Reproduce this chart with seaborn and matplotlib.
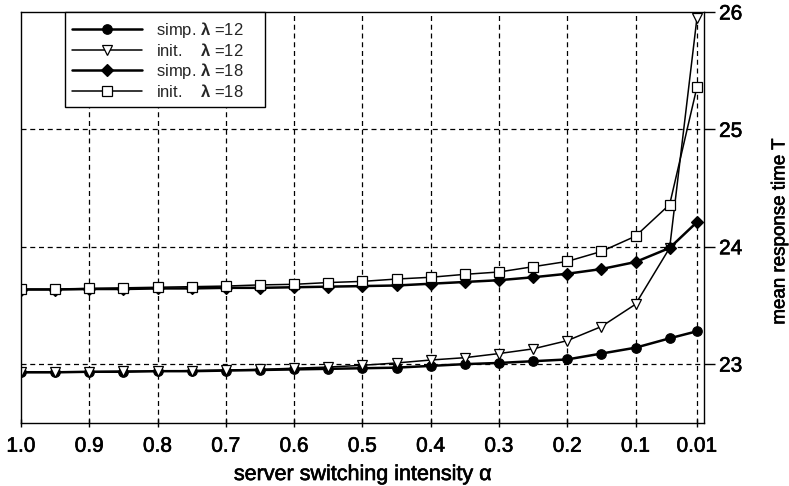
import matplotlib
matplotlib.use("Agg")
import matplotlib.pyplot as plt
import matplotlib.patheffects as pe
import seaborn as sns
import pandas as pd

# switching intensity values (x) and mean response times for each scheme
alpha = [1.0, 0.95, 0.9, 0.85, 0.8, 0.75, 0.7, 0.65, 0.6, 0.55, 0.5,
         0.45, 0.4, 0.35, 0.3, 0.25, 0.2, 0.15, 0.1, 0.05, 0.01]
simp12 = [22.93, 22.93, 22.935, 22.935, 22.94, 22.94, 22.945, 22.95, 22.955, 22.96, 22.965,
          22.97, 22.985, 23.0, 23.01, 23.025, 23.04, 23.09, 23.14, 23.22, 23.28]
init12 = [22.935, 22.935, 22.935, 22.94, 22.94, 22.945, 22.95, 22.955, 22.965, 22.975, 22.99,
          23.01, 23.035, 23.055, 23.09, 23.13, 23.2, 23.32, 23.51, 23.99, 25.95]
simp18 = [23.635, 23.635, 23.64, 23.64, 23.645, 23.645, 23.65, 23.65, 23.655, 23.66, 23.665,
          23.67, 23.685, 23.7, 23.715, 23.74, 23.77, 23.81, 23.87, 23.99, 24.21]
init18 = [23.64, 23.64, 23.645, 23.65, 23.655, 23.66, 23.665, 23.675, 23.68, 23.695, 23.705,
          23.725, 23.74, 23.765, 23.785, 23.83, 23.875, 23.96, 24.09, 24.36, 25.36]

labels = [r"simp. $\mathbf{\lambda}$ =12", r"init.    $\mathbf{\lambda}$ =12",
          r"simp. $\mathbf{\lambda}$ =18", r"init.    $\mathbf{\lambda}$ =18"]
xticks = [1.0, 0.9, 0.8, 0.7, 0.6, 0.5, 0.4, 0.3, 0.2, 0.1, 0.01]
xticklabels = ["1.0", "0.9", "0.8", "0.7", "0.6", "0.5", "0.4", "0.3", "0.2", "0.1", "0.01"]
yticks = [23, 24, 25, 26]

sns.set_theme(style="white")
plt.rcParams["font.family"] = ["Liberation Sans", "DejaVu Sans"]
plt.rcParams["mathtext.fontset"] = "custom"
plt.rcParams["mathtext.rm"] = "Liberation Sans"
plt.rcParams["mathtext.bf"] = "Liberation Sans:bold"
plt.rcParams["mathtext.it"] = "Liberation Sans:italic"

fig = plt.figure(figsize=(7.89, 4.86), dpi=100)
ax = fig.add_axes([0.0266, 0.130, 0.8654, 0.8453])

df = pd.DataFrame({"alpha": alpha, "s12": simp12, "i12": init12,
                   "s18": simp18, "i18": init18})

styles = [
    ("s12", dict(marker="o", markersize=6.8, markerfacecolor="black", linewidth=1.8)),
    ("i12", dict(marker="v", markersize=7.5, markerfacecolor="white", linewidth=1.1)),
    ("s18", dict(marker="D", markersize=6.2, markerfacecolor="black", linewidth=1.8)),
    ("i18", dict(marker="s", markersize=7.0, markerfacecolor="white", linewidth=1.1)),
]
for (col, kw), lab in zip(styles, labels):
    sns.lineplot(data=df, x="alpha", y=col, ax=ax, color="black",
                 markeredgecolor="black", markeredgewidth=0.9,
                 label=lab, sort=False, **kw)

ax.set_xlim(1.0, 0.0)
ax.set_ylim(22.5, 26.0)
ax.set_xticks(xticks)
ax.set_xticklabels(xticklabels)
ax.set_yticks(yticks)
ax.yaxis.tick_right()
ax.yaxis.set_label_position("right")

for x in xticks[1:]:
    ax.axvline(x, color="black", linestyle=(0, (4, 3)), linewidth=0.9, zorder=0)
for y in yticks[:-1]:
    ax.axhline(y, color="black", linestyle=(0, (4, 3)), linewidth=0.9, zorder=0)

for side in ["left", "right", "top", "bottom"]:
    ax.spines[side].set_visible(True)
    ax.spines[side].set_color("black")
    ax.spines[side].set_linewidth(1.0)

ax.tick_params(axis="x", direction="inout", length=6, width=1.0, colors="black",
               labelsize=15, pad=7, bottom=True)
ax.tick_params(axis="y", direction="out", length=8, width=1.0, colors="black",
               labelsize=15, pad=3, right=True, left=False)

heavy = [pe.withStroke(linewidth=0.45, foreground="black")]
for t in ax.get_xticklabels() + ax.get_yticklabels():
    t.set_path_effects(heavy)

ax.set_xlabel("server switching intensity α", fontsize=15.5, labelpad=6, color="black",
              path_effects=heavy)
ax.set_ylabel("mean response time T", fontsize=13.5, color="black",
              rotation=90, path_effects=heavy)
ax.yaxis.set_label_coords(1.099, 0.465)

leg = ax.legend(loc="upper left", bbox_to_anchor=(0.064, 1.0), fontsize=12,
                frameon=True, fancybox=False, framealpha=1, edgecolor="black",
                handlelength=4.2, handletextpad=0.8, labelspacing=0.12,
                borderpad=0.45, borderaxespad=0.0)
leg.get_frame().set_linewidth(1.0)
for txt in leg.get_texts():
    txt.set_text(txt.get_text() + "\u00a0\u00a0\u00a0\u00a0")

fig.savefig("out.png", dpi=100, facecolor="white")
